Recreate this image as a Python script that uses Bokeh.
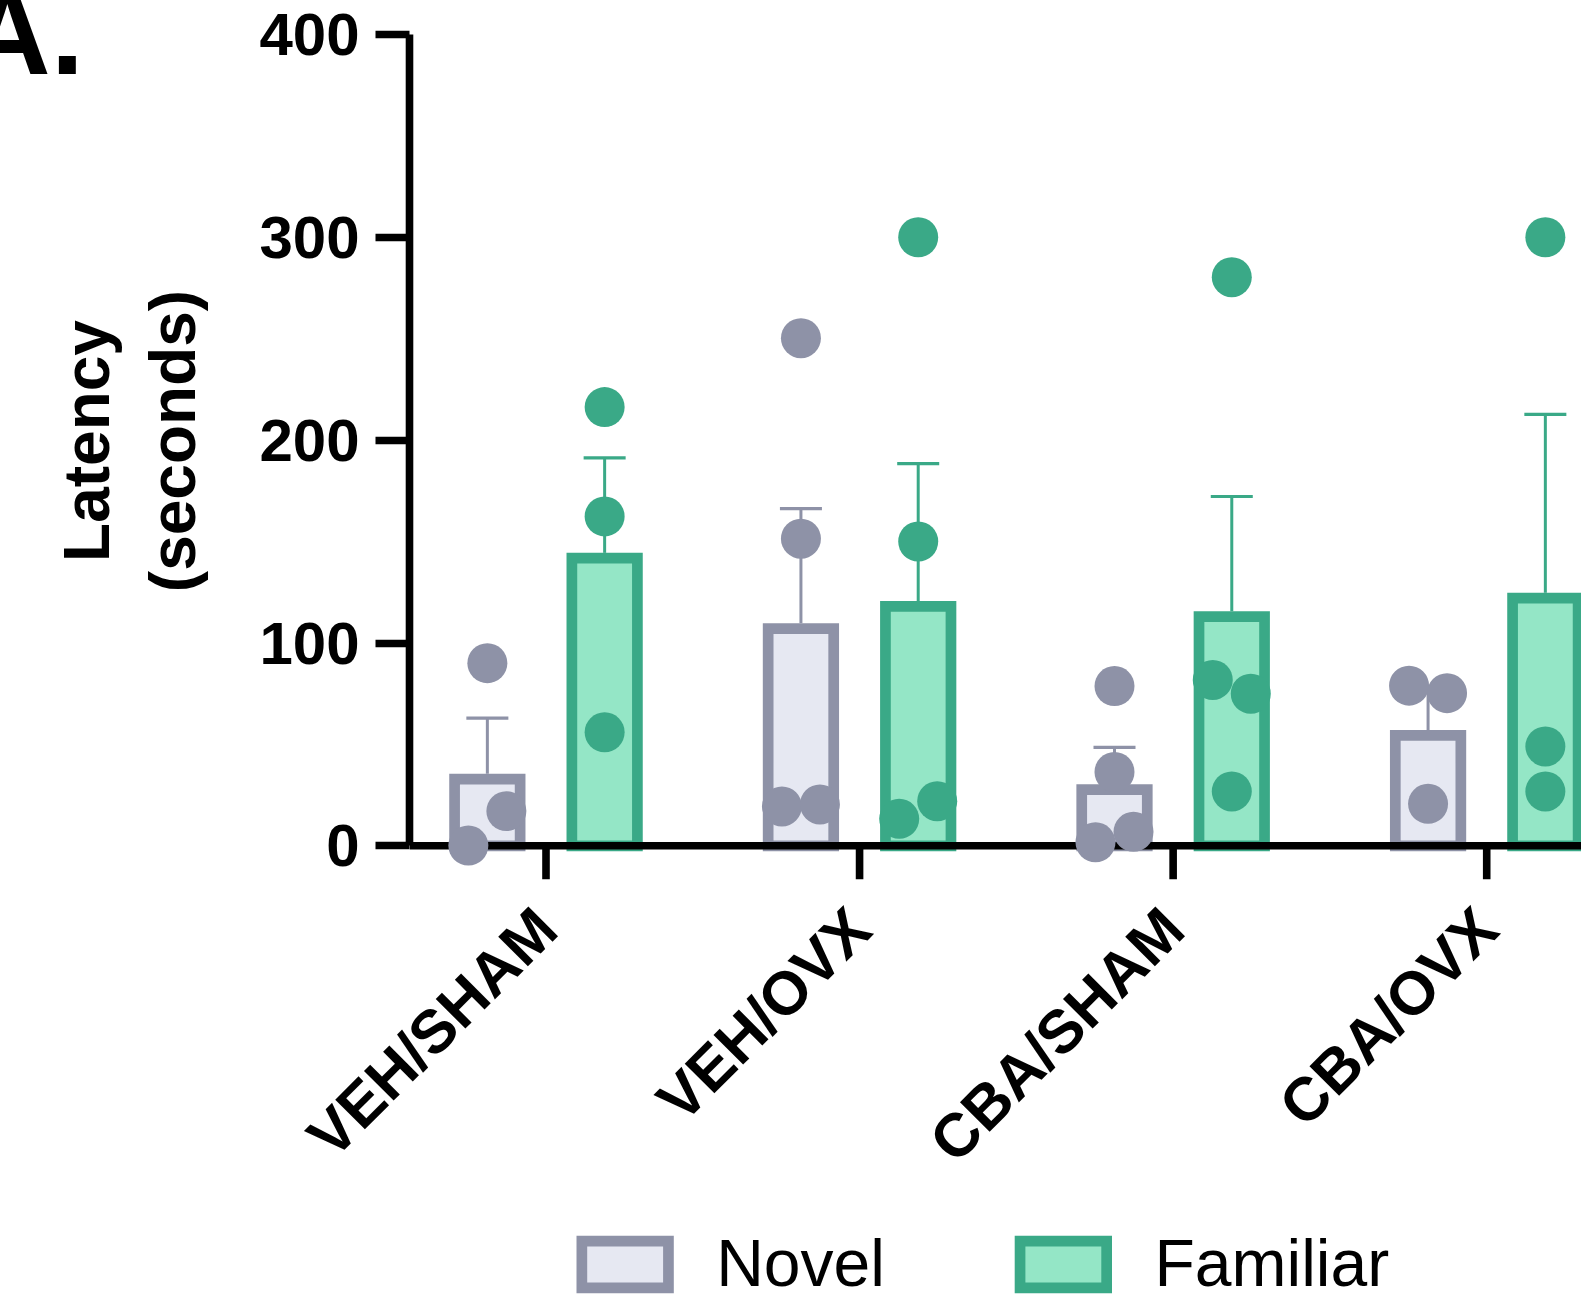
import math
from bokeh.plotting import figure
from bokeh.models import Range1d, FixedTicker, Span, Div
from bokeh.layouts import column
from bokeh.embed import file_html
from bokeh.resources import INLINE

# ---- data ----
categories = ["VEH/SHAM", "VEH/OVX", "CBA/SHAM", "CBA/OVX"]
series = ["Novel", "Familiar"]

novel_mean = [35.5, 109.8, 30.3, 57.1]
novel_err_top = [63.0, 166.3, 48.5, 77.0]
familiar_mean = [144.5, 120.7, 115.7, 124.8]
familiar_err_top = [191.4, 188.5, 172.3, 212.8]

novel_points = [[90.1, 17.1, 0.1], [250.4, 151.5, 19.4, 20.4], [78.8, 36.4, 1.7, 6.9], [79.0, 75.3, 20.7]]
familiar_points = [[216.4, 162.5, 56.0], [300.2, 150.1, 13.3, 22.0], [280.5, 81.8, 75.0, 26.8], [300.2, 49.0, 26.8]]

# horizontal spread of points (-1 left, 0 centre, 1 right), as drawn
novel_spread = [[0, 1, -1], [0, 0, -1, 1], [0, 0, -1, 1], [-1, 1, 0]]
familiar_spread = [[0, 0, 0], [0, 0, -1, 1], [0, -1, 1, 0], [0, 0, 0]]

y_ticks = [0, 100, 200, 300, 400]

# ---- style ----
NOVEL_LINE = "#8e92a7"
NOVEL_FILL = "#e6e8f2"
FAM_LINE = "#3aa987"
FAM_FILL = "#94e6c6"
LINE_COLORS = [NOVEL_LINE, FAM_LINE]
FILL_COLORS = [NOVEL_FILL, FAM_FILL]
FONT = "Liberation Sans"
BAR_OFF = 0.187
BAR_W = 0.209
SPREAD = 0.0606
CAP = 0.067
AX_W = 7.6
BAR_LW = 10.7

W = 1581
H_MAIN, H_LEG = 1222, 74
BORDER_L, BORDER_T, BORDER_B = 409, 2, 343
x0, x1 = -0.4353, 3.3023
y0, y1 = -16.63, 416.0
# keep the bar's outer edge (not the stroke centre) at the mean
px_per_unit = (H_MAIN - BORDER_T - BORDER_B) / (y1 - y0)
half_stroke = BAR_LW / 2 / px_per_unit

p = figure(width=W, height=H_MAIN, output_backend="svg", toolbar_location=None,
           x_range=Range1d(x0, x1), y_range=Range1d(y0, y1),
           min_border_left=BORDER_L, min_border_right=0, min_border_top=BORDER_T,
           min_border_bottom=BORDER_B)
p.outline_line_color = None
p.grid.visible = False
p.background_fill_color = "white"
p.border_fill_color = "white"

idx = list(range(len(categories)))
nx = [i - BAR_OFF for i in idx]
fx = [i + BAR_OFF for i in idx]

p.vbar(x=nx, top=[m - half_stroke for m in novel_mean], bottom=0, width=BAR_W,
       fill_color=NOVEL_FILL, line_color=NOVEL_LINE, line_width=BAR_LW, line_join="miter")
p.vbar(x=fx, top=[m - half_stroke for m in familiar_mean], bottom=0, width=BAR_W,
       fill_color=FAM_FILL, line_color=FAM_LINE, line_width=BAR_LW, line_join="miter")

for xs, m, t, c in [(nx, novel_mean, novel_err_top, NOVEL_LINE),
                    (fx, familiar_mean, familiar_err_top, FAM_LINE)]:
    p.segment(x0=xs, y0=m, x1=xs, y1=t, line_color=c, line_width=3)
    p.segment(x0=[v - CAP for v in xs], y0=t, x1=[v + CAP for v in xs], y1=t,
              line_color=c, line_width=3.2)

# x axis line at zero and its category ticks (reaching the frame bottom)
p.add_layout(Span(location=0, dimension="width", line_color="black", line_width=AX_W))
p.segment(x0=idx, y0=[0] * len(idx), x1=idx, y1=[y0] * len(idx),
          line_color="black", line_width=AX_W)

for xs, pts, spr, c in [(nx, novel_points, novel_spread, NOVEL_LINE),
                        (fx, familiar_points, familiar_spread, FAM_LINE)]:
    px, py = [], []
    for xc, vals, ss in zip(xs, pts, spr):
        for v, s in zip(vals, ss):
            px.append(xc + s * SPREAD)
            py.append(v)
    p.scatter(px, py, size=40, fill_color=c, line_color=None, level="overlay")

# x axis (labels only; line and ticks drawn at zero above)
xa = p.xaxis[0]
xa.ticker = FixedTicker(ticks=idx)
xa.major_label_overrides = {i: c for i, c in enumerate(categories)}
xa.axis_line_color = None
xa.major_tick_line_color = None
xa.major_tick_out = 0
xa.major_tick_in = 0
xa.minor_tick_line_color = None
xa.major_label_orientation = math.pi / 4
xa.major_label_text_font = FONT
xa.major_label_text_font_style = "bold"
xa.major_label_text_font_size = "61px"
xa.major_label_text_color = "black"
xa.major_label_standoff = 39

# y axis
ya = p.yaxis[0]
ya.ticker = FixedTicker(ticks=y_ticks)
ya.bounds = (0, 400)
ya.axis_line_width = AX_W
ya.axis_line_color = "black"
ya.major_tick_line_width = AX_W
ya.major_tick_line_color = "black"
ya.major_tick_out = 34
ya.major_tick_in = 0
ya.minor_tick_line_color = None
ya.major_label_text_font = FONT
ya.major_label_text_font_style = "bold"
ya.major_label_text_font_size = "60px"
ya.major_label_text_color = "black"
ya.major_label_standoff = 16
ya.axis_label = "Latency\n(seconds)"
ya.axis_label_text_font = FONT
ya.axis_label_text_font_style = "bold"
ya.axis_label_text_font_size = "64px"
ya.axis_label_text_color = "black"
ya.axis_label_text_line_height = 1.2
ya.axis_label_standoff = 47

# ---- legend strip (page pixel coordinates; frame aligned with the chart's) ----
leg = figure(width=W, height=H_LEG, output_backend="svg", toolbar_location=None,
             x_range=Range1d(BORDER_L, W), y_range=Range1d(H_LEG, 0),
             x_axis_type=None, y_axis_type=None,
             min_border_left=BORDER_L, min_border_right=0, min_border_top=0,
             min_border_bottom=0)
leg.outline_line_color = None
leg.grid.visible = False
leg.background_fill_color = "white"
leg.border_fill_color = "white"

box_cx = [624.65, 1062.85]
text_x = [715.7, 1154.0]
leg.rect(x=box_cx, y=[42, 42], width=86.6, height=46.7, fill_color=FILL_COLORS,
         line_color=LINE_COLORS, line_width=BAR_LW, line_join="miter")
leg.text(x=text_x, y=[40.2, 40.2], text=series, text_font_size="66px",
         text_font={"value": FONT}, text_color="black", text_baseline="middle",
         text_align="left")

panel_tag = Div(text="A.", width=200, height=130,
                styles={"position": "absolute", "left": "-36px", "top": "-28px",
                        "font-family": FONT, "font-weight": "bold",
                        "font-size": "120px", "line-height": "120px",
                        "color": "black", "z-index": "10", "overflow": "visible",
                        "margin": "0", "padding": "0"})

layout = column(p, leg, panel_tag, spacing=0)
open("out.html", "w").write(file_html(layout, INLINE))
